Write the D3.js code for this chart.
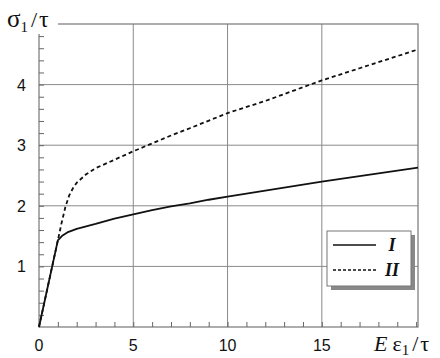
<!DOCTYPE html>
<html>
<head>
<meta charset="utf-8">
<script src="https://cdn.jsdelivr.net/npm/d3@7"></script>
<style>
  body { margin: 0; background: #fff; }
  svg { display: block; }
  .tick-label { font-family: "Liberation Sans", Arial, sans-serif; font-size: 16px; fill: #111; }
  .axis-label { font-family: "Liberation Serif", "DejaVu Serif", serif; font-size: 22px; fill: #111; }
  .legend-text { font-family: "Liberation Serif", serif; font-size: 18px; font-style: italic; font-weight: bold; fill: #111; }
</style>
</head>
<body>
<svg id="chart" width="440" height="358"></svg>
<script>
// curve I: elastic branch then hardening
const xI = [0, 1, 1.25, 1.5, 2, 2.5, 3, 4, 5, 6, 7, 8, 9, 10, 12, 15, 17, 20.1];
const yI = [0, 1.43, 1.51, 1.56, 1.62, 1.66, 1.70, 1.79, 1.86, 1.93, 1.99, 2.04, 2.10, 2.15, 2.25, 2.40, 2.49, 2.63];

// curve II
const xII = [0, 1, 1.2, 1.4, 1.6, 1.8, 2, 2.5, 3, 4, 5, 6, 7, 8, 10, 12, 15, 17, 20.1];
const yII = [0, 1.43, 1.72, 1.98, 2.17, 2.29, 2.38, 2.52, 2.62, 2.76, 2.90, 3.03, 3.16, 3.28, 3.53, 3.73, 4.07, 4.27, 4.58];

const xTicks = [0, 5, 10, 15];
const yTicks = [1, 2, 3, 4];
const legendNames = ['I', 'II'];

const svg = d3.select('#chart');
const margin = { left: 39, top: 24, right: 22, bottom: 31 };
const width = +svg.attr('width');
const height = +svg.attr('height');
const innerWidth = width - margin.left - margin.right;
const innerHeight = height - margin.top - margin.bottom;

const xScale = d3.scaleLinear().domain([0, 20.1]).range([0, innerWidth]);
const yScale = d3.scaleLinear().domain([0, 5]).range([innerHeight, 0]);

const g = svg.append('g')
    .attr('transform', `translate(${margin.left},${margin.top})`);

// grid
g.selectAll('.vgrid').data(xTicks.filter(d => d > 0))
  .enter().append('line')
    .attr('class', 'vgrid')
    .attr('x1', d => xScale(d)).attr('x2', d => xScale(d))
    .attr('y1', 0).attr('y2', innerHeight)
    .attr('stroke', '#8a8a8a').attr('stroke-width', 1);
g.selectAll('.hgrid').data(yTicks)
  .enter().append('line')
    .attr('class', 'hgrid')
    .attr('x1', 0).attr('x2', innerWidth)
    .attr('y1', d => yScale(d)).attr('y2', d => yScale(d))
    .attr('stroke', '#8a8a8a').attr('stroke-width', 1);

// frame
g.append('rect')
    .attr('width', innerWidth).attr('height', innerHeight)
    .attr('fill', 'none').attr('stroke', '#777').attr('stroke-width', 1.2);

// minor ticks, inward
const xAxis = d3.axisBottom(xScale)
    .tickValues(d3.range(1, 21))
    .tickSize(-5).tickFormat('');
const xAxisG = g.append('g')
    .attr('transform', `translate(0,${innerHeight})`)
    .call(xAxis);
xAxisG.select('.domain').remove();
xAxisG.selectAll('text').remove();
xAxisG.selectAll('line').attr('stroke', '#666');

const yAxis = d3.axisLeft(yScale)
    .tickValues(d3.range(1, 25).map(i => i * 0.2))
    .tickSize(-5).tickFormat('');
const yAxisG = g.append('g').call(yAxis);
yAxisG.select('.domain').remove();
yAxisG.selectAll('text').remove();
yAxisG.selectAll('line').attr('stroke', '#666');

// tick labels
g.selectAll('.xlab').data(xTicks)
  .enter().append('text')
    .attr('class', 'tick-label')
    .attr('x', d => xScale(d))
    .attr('y', innerHeight + 24)
    .attr('text-anchor', 'middle')
    .text(d => d);
g.selectAll('.ylab').data(yTicks)
  .enter().append('text')
    .attr('class', 'tick-label')
    .attr('x', -13)
    .attr('y', d => yScale(d) + 6)
    .attr('text-anchor', 'end')
    .text(d => d);

// curves
const line = d3.line()
    .x(d => xScale(d[0]))
    .y(d => yScale(d[1]));

g.append('path')
    .datum(d3.zip(xII, yII))
    .attr('d', line)
    .attr('fill', 'none').attr('stroke', '#111')
    .attr('stroke-width', 1.8).attr('stroke-dasharray', '4,3')
    .attr('stroke-linejoin', 'round');
g.append('path')
    .datum(d3.zip(xI, yI))
    .attr('d', line)
    .attr('fill', 'none').attr('stroke', '#111')
    .attr('stroke-width', 1.8)
    .attr('stroke-linejoin', 'round');

// axis labels with white backing
svg.append('rect').attr('x', 0).attr('y', 0).attr('width', 58).attr('height', 34).attr('fill', '#fff');
const yl = svg.append('text').attr('class', 'axis-label').attr('x', 7).attr('y', 27);
yl.append('tspan').attr('font-size', 25).text('σ');
yl.append('tspan').attr('dy', 5).attr('font-size', 15).text('1');
yl.append('tspan').attr('dy', -5).attr('dx', 3).text('/');
yl.append('tspan').attr('dx', 2).attr('font-size', 24).text('τ');

const xl = svg.append('text').attr('class', 'axis-label').attr('x', 374).attr('y', 351);
xl.append('tspan').attr('font-style', 'italic').text('E');
xl.append('tspan').attr('dx', 5).text('ε');
xl.append('tspan').attr('dy', 4).attr('font-size', 15).text('1');
xl.append('tspan').attr('dy', -4).attr('dx', 3).text('/');
xl.append('tspan').attr('dx', 2).attr('font-size', 22).text('τ');

// legend
const lx = 327, ly = 231, lw = 84, lh = 55;
const legend = svg.append('g');
legend.append('rect')
    .attr('x', lx + 4).attr('y', ly + 4).attr('width', lw).attr('height', lh)
    .attr('fill', '#888');
legend.append('rect')
    .attr('x', lx).attr('y', ly).attr('width', lw).attr('height', lh)
    .attr('fill', '#fff').attr('stroke', '#777').attr('stroke-width', 1);
legendNames.forEach((name, i) => {
  const yy = ly + 14 + i * 25;
  legend.append('line')
      .attr('x1', lx + 6).attr('x2', lx + 49)
      .attr('y1', yy).attr('y2', yy)
      .attr('stroke', '#111').attr('stroke-width', 1.4)
      .attr('stroke-dasharray', i === 1 ? '3,2' : null);
  legend.append('text')
      .attr('class', 'legend-text')
      .attr('x', lx + 65).attr('y', yy + 6)
      .attr('text-anchor', 'middle')
      .text(name);
});
</script>
</body>
</html>
